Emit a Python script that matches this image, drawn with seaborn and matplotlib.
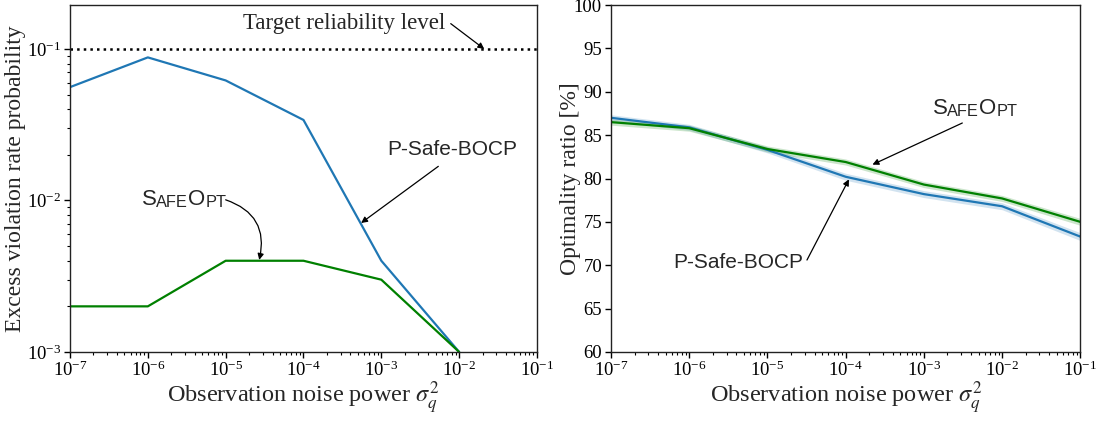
import numpy as np
import pandas as pd
import matplotlib
matplotlib.use("Agg")
import matplotlib.pyplot as plt
import seaborn as sns

# ---------------- data ----------------
noise_power = [1e-7, 1e-6, 1e-5, 1e-4, 1e-3, 1e-2]
viol_psafe = [0.056, 0.088, 0.062, 0.034, 0.004, 0.001]
viol_safeopt = [0.002, 0.002, 0.004, 0.004, 0.003, 0.001]
target_level = 0.1

noise_power_opt = [1e-7, 1e-6, 1e-5, 1e-4, 1e-3, 1e-2, 1e-1]
opt_psafe = [87.0, 85.9, 83.3, 80.2, 78.2, 76.8, 73.3]
opt_safeopt = [86.5, 85.8, 83.4, 81.9, 79.3, 77.7, 75.0]
band_psafe = [0.35, 0.35, 0.35, 0.4, 0.4, 0.4, 0.45]
band_safeopt = [0.35, 0.35, 0.35, 0.35, 0.35, 0.35, 0.4]

label_psafe = "P-Safe-BOCP"
label_safeopt = "SafeOpt"

BLUE = "#1f77b4"
GREEN = "#008000"

# ---------------- style ----------------
sns.set_style("ticks")
plt.rcParams["font.family"] = ["Liberation Serif", "DejaVu Serif"]
plt.rcParams["mathtext.fontset"] = "stix"
plt.rcParams["axes.edgecolor"] = "#222222"
plt.rcParams["xtick.color"] = "black"
plt.rcParams["ytick.color"] = "black"
plt.rcParams["axes.linewidth"] = 1.0

fig = plt.figure(figsize=(10.99, 4.21), dpi=100)
ax1 = fig.add_axes([0.0637, 0.164, 0.4249, 0.824])
ax2 = fig.add_axes([0.556, 0.164, 0.427, 0.824])

df1 = pd.DataFrame({"x": noise_power, "psafe": viol_psafe, "safeopt": viol_safeopt})
df2 = pd.DataFrame({"x": noise_power_opt, "psafe": opt_psafe, "safeopt": opt_safeopt,
                    "bp": band_psafe, "bs": band_safeopt})

# ---- left panel ----
sns.lineplot(data=df1, x="x", y="psafe", ax=ax1, color=BLUE, lw=1.6)
sns.lineplot(data=df1, x="x", y="safeopt", ax=ax1, color=GREEN, lw=1.6)
ax1.axhline(target_level, color="black", ls=":", lw=1.8)
ax1.set_xscale("log")
ax1.set_yscale("log")
ax1.set_xlim(1e-7, 1e-1)
ax1.set_ylim(1e-3, 0.195)
ax1.set_xticks([10.0**k for k in range(-7, 0)])
ax1.set_yticks([1e-3, 1e-2, 1e-1])
ax1.set_xlabel(r"Observation noise power $\sigma_q^2$", fontsize=17.5, labelpad=-1)
ax1.set_ylabel("Excess violation rate probability", fontsize=17)
ax1.yaxis.set_label_coords(-0.095, 0.5)

# ---- right panel ----
sns.lineplot(data=df2, x="x", y="psafe", ax=ax2, color=BLUE, lw=1.6)
ax2.fill_between(df2["x"], df2["psafe"] - df2["bp"], df2["psafe"] + df2["bp"],
                 color=BLUE, alpha=0.2, lw=0)
sns.lineplot(data=df2, x="x", y="safeopt", ax=ax2, color=GREEN, lw=1.6)
ax2.fill_between(df2["x"], df2["safeopt"] - df2["bs"], df2["safeopt"] + df2["bs"],
                 color=GREEN, alpha=0.2, lw=0)
ax2.set_xscale("log")
ax2.set_xlim(1e-7, 1e-1)
ax2.set_ylim(60, 100)
ax2.set_xticks([10.0**k for k in range(-7, 0)])
ax2.set_yticks(range(60, 101, 5))
ax2.set_xlabel(r"Observation noise power $\sigma_q^2$", fontsize=17.5, labelpad=-1)
ax2.set_ylabel("Optimality ratio [%]", fontsize=17)
ax2.yaxis.set_label_coords(-0.064, 0.5)

for ax in (ax1, ax2):
    ax.tick_params(axis="both", which="major", labelsize=13.5, length=4, width=1,
                   direction="out", pad=2.5)
    ax.tick_params(axis="both", which="minor", length=2, width=0.8)
    for s in ax.spines.values():
        s.set_visible(True)
ax2.minorticks_off()
ax2.xaxis.set_minor_locator(matplotlib.ticker.LogLocator(base=10, subs=np.arange(2, 10), numticks=20))
ax2.tick_params(axis="x", which="minor", length=2, width=0.8)

SANS = ["Liberation Sans", "DejaVu Sans"]
ARROW = dict(arrowstyle="-|>", color="black", lw=0.9, mutation_scale=9, shrinkA=0, shrinkB=0)


def small_caps(ax, x, y, size):
    """Draw 'SafeOpt' in small caps starting at (x, y) data coords."""
    pieces = [("S", size), ("AFE", size * 0.74), ("O", size), ("PT", size * 0.74)]
    first = ax.text(x, y, pieces[0][0], fontsize=pieces[0][1], family=SANS,
                    ha="left", va="bottom")
    prev = first
    for txt, sz in pieces[1:]:
        t = ax.annotate(txt, xy=(1, 0), xycoords=prev, fontsize=sz, family=SANS,
                        ha="left", va="bottom")
        prev = t


# left annotations
ax1.text(3.35e-4, 0.148, "Target reliability level", fontsize=16.5, ha="center", va="center")
ax1.annotate("", xy=(0.021, 0.1), xytext=(7.8e-3, 0.147), arrowprops=ARROW)
ax1.text(8.1e-3, 0.0216, label_psafe, fontsize=15, family=SANS, ha="center", va="center")
ax1.annotate("", xy=(5.5e-4, 0.0071), xytext=(5.4e-3, 0.0168), arrowprops=ARROW)
small_caps(ax1, 8.3e-7, 0.0087, 16)
ax1.annotate("", xy=(2.7e-5, 0.00405), xytext=(1.0e-5, 0.0101),
             arrowprops=dict(ARROW, connectionstyle="arc3,rad=-0.45"))

# right annotations
small_caps(ax2, 1.29e-3, 86.9, 16)
ax2.annotate("", xy=(2.2e-4, 81.6), xytext=(3.1e-3, 86.4), arrowprops=ARROW)
ax2.text(4.2e-6, 70.3, label_psafe, fontsize=15, family=SANS, ha="center", va="center")
ax2.annotate("", xy=(1.1e-4, 79.9), xytext=(3.2e-5, 70.6), arrowprops=ARROW)

fig.savefig("out.png", dpi=100)
